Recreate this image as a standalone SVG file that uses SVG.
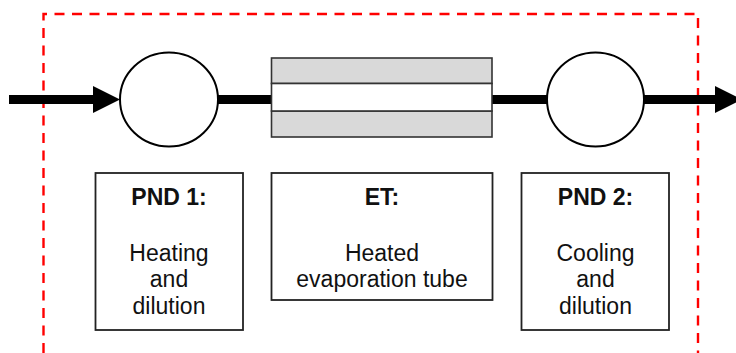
<svg xmlns="http://www.w3.org/2000/svg" width="736" height="353" viewBox="0 0 736 353">
<style>
.frame{fill:none;stroke:#ff0000;stroke-width:2.4;stroke-dasharray:10 7.5}
.flow{stroke:#000;stroke-width:9;fill:none}
.head{fill:#000}
.circ{fill:#fff;stroke:#000;stroke-width:2}
.tube{fill:#d9d9d9;stroke:#333;stroke-width:1.6}
.bore{fill:#fff;stroke:#333;stroke-width:1.6}
.box{fill:#fff;stroke:#222;stroke-width:1.8}
.t{font-family:"Liberation Sans",Arial,sans-serif;font-size:23px;fill:#111;text-anchor:middle}
.b{font-weight:bold}
</style>
<polyline class="frame" points="43.5,353 43.5,14 698,14 698,353"/>
<g id="connectors">
<line class="flow" x1="9" y1="99.5" x2="96" y2="99.5"/>
<polygon class="head" points="93,86 120,99.5 93,113"/>
<line class="flow" x1="217" y1="99.5" x2="272" y2="99.5"/>
<line class="flow" x1="491" y1="99.5" x2="548" y2="99.5"/>
<line class="flow" x1="643" y1="99.5" x2="718" y2="99.5"/>
<polygon class="head" points="715,86 742,99.5 715,113"/>
</g>
<g id="pnd1-mixer"><ellipse class="circ" cx="169" cy="99.5" rx="49" ry="47"/></g>
<g id="et-tube">
<rect class="tube" x="271.5" y="58" width="220.5" height="25.5"/>
<rect class="tube" x="271.5" y="111" width="220.5" height="26"/>
<rect class="bore" x="271.5" y="83.5" width="220.5" height="27.5"/>
</g>
<g id="pnd2-mixer"><ellipse class="circ" cx="595.5" cy="99.5" rx="48.5" ry="47"/></g>
<g id="pnd1-box">
<rect class="box" x="95.5" y="173" width="147.5" height="157"/>
<text class="t b" x="169" y="205">PND 1:</text>
<text class="t" x="169" y="260.5">Heating</text>
<text class="t" x="169" y="287">and</text>
<text class="t" x="169" y="313.5">dilution</text>
</g>
<g id="et-box">
<rect class="box" x="271.5" y="173" width="221" height="127"/>
<text class="t b" x="382" y="205">ET:</text>
<text class="t" x="382" y="260.5">Heated</text>
<text class="t" x="382" y="287">evaporation tube</text>
</g>
<g id="pnd2-box">
<rect class="box" x="521.5" y="173" width="147.5" height="157"/>
<text class="t b" x="595.5" y="205">PND 2:</text>
<text class="t" x="595.5" y="260.5">Cooling</text>
<text class="t" x="595.5" y="287">and</text>
<text class="t" x="595.5" y="313.5">dilution</text>
</g>
</svg>
